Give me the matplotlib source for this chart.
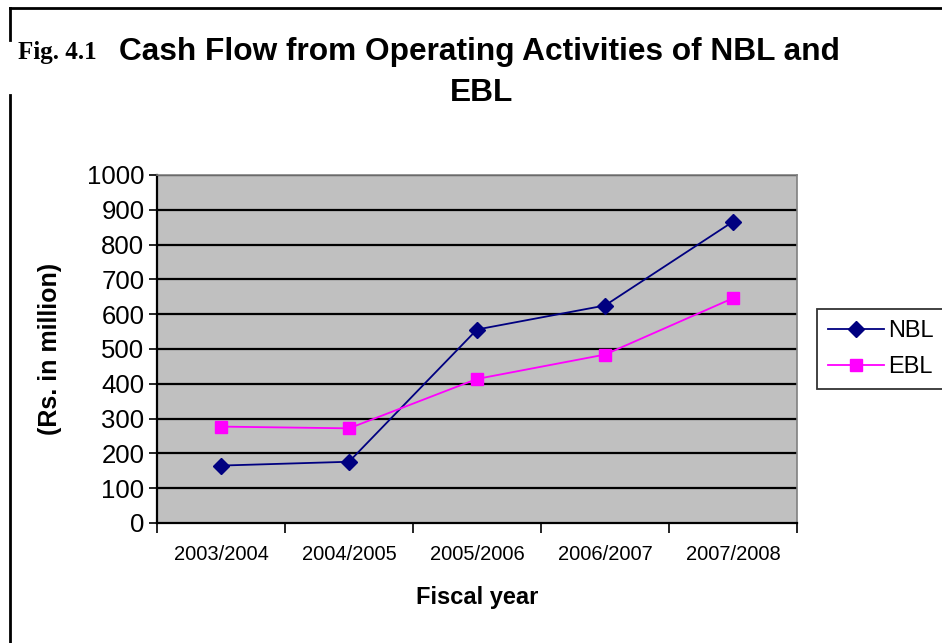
import numpy as np
import matplotlib
matplotlib.use("Agg")
import matplotlib.pyplot as plt
from matplotlib.lines import Line2D

years = ["2003/2004", "2004/2005", "2005/2006", "2006/2007", "2007/2008"]
nbl = [165, 176, 556, 625, 866]
ebl = [277, 272, 414, 484, 646]

plt.rcParams['font.family'] = ['Liberation Sans', 'DejaVu Sans']

fig = plt.figure(figsize=(9.42, 6.43), dpi=100)
ax = fig.add_axes([157 / 942, 1 - 523 / 643, 640 / 942, 348 / 643])

x = np.arange(len(years)) + 0.5
ax.set_facecolor('#C0C0C0')
ax.set_xlim(0, len(years))
ax.set_ylim(0, 1000)
ax.set_yticks(np.arange(0, 1001, 100))
for yv in np.arange(100, 1001, 100):
    ax.axhline(yv, color='black', lw=1.6, zorder=1)

ax.plot(x, nbl, color='#000080', marker='D', markersize=8, lw=1.3, label='NBL', zorder=3)
ax.plot(x, ebl, color='#FF00FF', marker='s', markersize=9, lw=1.3, label='EBL', zorder=3)

ax.set_xticks(np.arange(0, len(years) + 1))
ax.set_xticklabels([])
ax.set_xticks(x, minor=True)
ax.set_xticklabels(years, minor=True, fontsize=14.5)
ax.tick_params(axis='x', which='major', direction='out', length=7, width=1.2)
ax.tick_params(axis='x', which='minor', length=0, pad=16)
ax.tick_params(axis='y', direction='out', length=6, width=1.2, labelsize=18.5, pad=3)

for side in ['top', 'right']:
    ax.spines[side].set_color('#808080')
    ax.spines[side].set_linewidth(1.2)
for side in ['left', 'bottom']:
    ax.spines[side].set_color('black')
    ax.spines[side].set_linewidth(1.6)

ax.set_ylabel('(Rs. in million)', fontsize=18, fontweight='bold', labelpad=18)
ax.set_xlabel('Fiscal year', fontsize=17, fontweight='bold', labelpad=16)

leg = ax.legend(loc='center left', bbox_to_anchor=(817 / 942, 1 - 349 / 643),
                bbox_transform=fig.transFigure, fontsize=17, frameon=True,
                fancybox=False, edgecolor='black', handlelength=2.4,
                handletextpad=0.15, borderpad=0.45, labelspacing=0.6,
                borderaxespad=0)
leg.get_frame().set_linewidth(1.3)

# title
fig.text(18 / 942, 1 - 53 / 643, 'Fig. 4.1', fontsize=18, family='Liberation Serif',
         fontweight='bold', va='center', ha='left')
fig.text(479 / 942, 1 - 52 / 643, 'Cash Flow from Operating Activities of NBL and',
         fontsize=22.8, fontweight='bold', va='center', ha='center')
fig.text(482 / 942, 1 - 93 / 643, 'EBL', fontsize=22.8, fontweight='bold',
         va='center', ha='center')

# page frame
fig.add_artist(Line2D([10 / 942, 1], [1 - 8 / 643, 1 - 8 / 643], color='black', lw=2))
fig.add_artist(Line2D([10 / 942, 10 / 942], [1 - 8 / 643, 1 - 40 / 643], color='black', lw=2))
fig.add_artist(Line2D([10 / 942, 10 / 942], [1 - 95 / 643, 0], color='black', lw=2))

fig.savefig('out.png', dpi=100)
